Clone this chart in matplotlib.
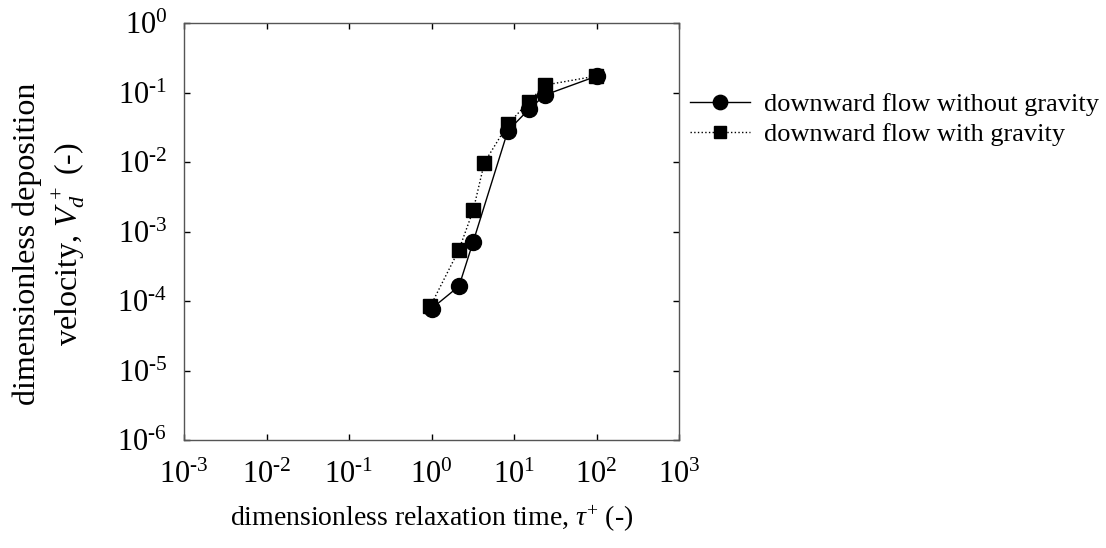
import matplotlib.pyplot as plt

plt.rcParams['font.family'] = ['Liberation Serif', 'DejaVu Serif']
plt.rcParams['mathtext.fontset'] = 'custom'
plt.rcParams['mathtext.rm'] = 'Liberation Serif'
plt.rcParams['mathtext.it'] = 'Liberation Serif:italic'

# data
tau_nog = [1.0, 2.15, 3.2, 8.4, 15.2, 23.8, 101]
vd_nog = [7.8e-5, 1.64e-4, 7.2e-4, 0.0283, 0.058, 0.093, 0.174]

tau_g = [0.97, 2.15, 3.2, 4.37, 8.4, 15.0, 23.8, 99]
vd_g = [8.5e-5, 5.5e-4, 2.04e-3, 9.9e-3, 0.035, 0.074, 0.129, 0.174]

xticks = [1e-3, 1e-2, 1e-1, 1e0, 1e1, 1e2, 1e3]
yticks = [1e-6, 1e-5, 1e-4, 1e-3, 1e-2, 1e-1, 1e0]
exps_x = ['-3', '-2', '-1', '0', '1', '2', '3']
exps_y = ['-6', '-5', '-4', '-3', '-2', '-1', '0']


def lab(e):
    # gnuplot-style label: hyphen instead of a minus sign
    if e.startswith('-'):
        return r'10$^{\text{-}' + e[1:] + '}$'
    return '10$^{' + e + '}$'


fig = plt.figure(figsize=(11.06, 5.48), dpi=100)
ax = fig.add_axes([0.1664, 0.197, 0.4476, 0.7605])

ax.plot(tau_g, vd_g, color='black', linestyle=':', linewidth=1,
        marker='s', markersize=10, label='downward flow with gravity')
ax.plot(tau_nog, vd_nog, color='black', linestyle='-', linewidth=1,
        marker='o', markersize=11.5, label='downward flow without gravity')

ax.set_xscale('log')
ax.set_yscale('log')
ax.set_xlim(1e-3, 1e3)
ax.set_ylim(1e-6, 1e0)
ax.set_xticks(xticks)
ax.set_xticklabels([lab(e) for e in exps_x])
ax.set_yticks(yticks)
ax.set_yticklabels([lab(e) for e in exps_y])
ax.minorticks_off()
ax.tick_params(which='major', direction='in', length=4, width=1,
               top=True, right=True, labelsize=22, pad=12, colors='black')
ax.tick_params(axis='x', pad=15)
for s in ax.spines.values():
    s.set_color('#555555')
    s.set_linewidth(1)

ax.set_xlabel(r'dimensionless relaxation time, $\tau^{+}$ (-)', fontsize=20, labelpad=10)
ax.set_ylabel('dimensionless deposition\n' + r'velocity, $V_d^{\,+}$ (-)', fontsize=23,
              labelpad=22, linespacing=1.3)
ax.yaxis.label.set_y(0.47)

h, l = ax.get_legend_handles_labels()
ax.legend(h[::-1], l[::-1], loc='upper left', bbox_to_anchor=(1.0, 0.858),
          frameon=False, fontsize=19, handlelength=2.3, handletextpad=0.5,
          labelspacing=0.22, borderaxespad=0.0, markerscale=0.9)

fig.savefig('out.png', dpi=100)
